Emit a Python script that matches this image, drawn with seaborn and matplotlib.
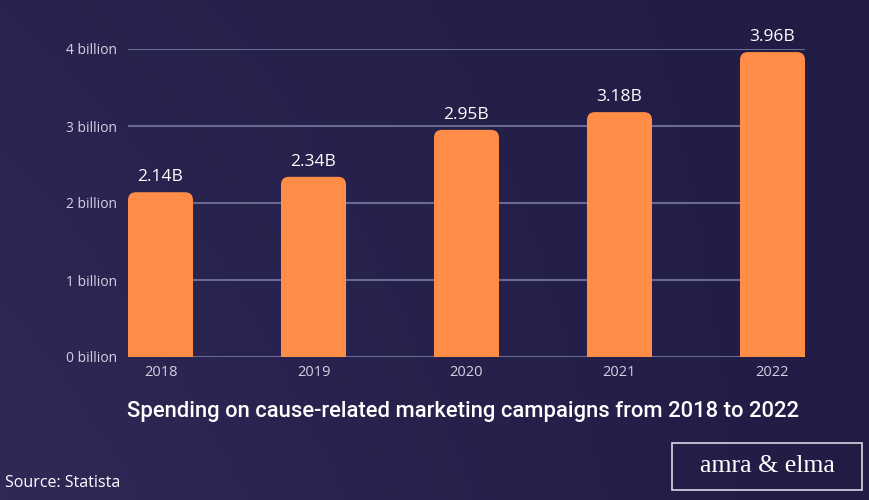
import numpy as np
import pandas as pd
import matplotlib
matplotlib.use("Agg")
import matplotlib.pyplot as plt
import seaborn as sns
from matplotlib.patches import FancyBboxPatch, Rectangle

years = ["2018", "2019", "2020", "2021", "2022"]
spend = [2.14, 2.34, 2.95, 3.18, 3.96]  # billions
labels = ["2.14B", "2.34B", "2.95B", "3.18B", "3.96B"]
yticks = [0, 1, 2, 3, 4]
ytick_labels = ["0 billion", "1 billion", "2 billion", "3 billion", "4 billion"]

bg = "#231f4a"
orange = "#ff8c47"
grid = "#6b6892"
soft = "#d3d1e3"

sns.set_theme(style="dark")
plt.rcParams["font.family"] = ["Open Sans", "DejaVu Sans"]

df = pd.DataFrame({"Year": years, "Spend": spend})

fig = plt.figure(figsize=(8.7, 5), dpi=100, facecolor=bg)

# faint background gradient
bgax = fig.add_axes([0, 0, 1, 1], zorder=-10)
grad = np.linspace(1, 0, 256)[None, :] * np.linspace(0.6, 1, 256)[:, None]
bgax.imshow(grad, aspect="auto", cmap=matplotlib.colors.LinearSegmentedColormap.from_list("bg", ["#211c44", "#2e2956"]),
            extent=[0, 1, 0, 1])
bgax.axis("off")

ax = fig.add_axes([128 / 870, 1 - 357 / 500, 677 / 870, 308 / 500])
ax.set_facecolor("none")

sns.barplot(data=df, x="Year", y="Spend", color=orange, width=0.425, ax=ax, zorder=3)

# rounded tops
rx = 0.052
ry = 0.104
for p in list(ax.patches):
    x, w, h = p.get_x(), p.get_width(), p.get_height()
    p.remove()
    ax.add_patch(FancyBboxPatch((x, -ry), w, h + ry,
                                boxstyle=f"round,pad=0,rounding_size={rx}",
                                mutation_aspect=ry / rx, facecolor=orange,
                                edgecolor="none", zorder=3))

for i, (v, t) in enumerate(zip(spend, labels)):
    ax.text(i, v + 0.09, t, ha="center", va="bottom", color="white",
            fontsize=12.5, clip_on=False)

ax.set_xlim(-0.2125, 4.2125)
ax.set_ylim(0, 4)
ax.set_yticks(yticks)
ax.set_yticklabels(ytick_labels)
for y in yticks:
    ax.axhline(y, color=grid, lw=1.5, zorder=1)
ax.grid(False)
for s in ax.spines.values():
    s.set_visible(False)
ax.tick_params(axis="y", length=0, pad=8, colors=soft, labelsize=10)
ax.tick_params(axis="x", length=0, pad=6, colors=soft, labelsize=10.5)
ax.set_xlabel("")
ax.set_ylabel("")

fig.text(0.5 * (127 + 800) / 870, 1 - 412 / 500,
         "Spending on cause-related marketing campaigns from 2018 to 2022",
         ha="center", va="center", color="white", fontsize=15.8, fontweight="medium",
         family=["Roboto", "DejaVu Sans"])
fig.text(5 / 870, 1 - 483 / 500, "Source: Statista", ha="left", va="center",
         color="white", fontsize=11.5)
fig.patches.append(Rectangle((672 / 870, 1 - 490 / 500), 190 / 870, 47 / 500,
                             transform=fig.transFigure, facecolor="none",
                             edgecolor="#d8d6e6", lw=1.2))
fig.text(767 / 870, 1 - 466 / 500, "amra & elma", ha="center", va="center",
         color="white", fontsize=18.5, family=["Liberation Serif", "DejaVu Serif"])

fig.savefig("out.png", dpi=100, facecolor=bg)
